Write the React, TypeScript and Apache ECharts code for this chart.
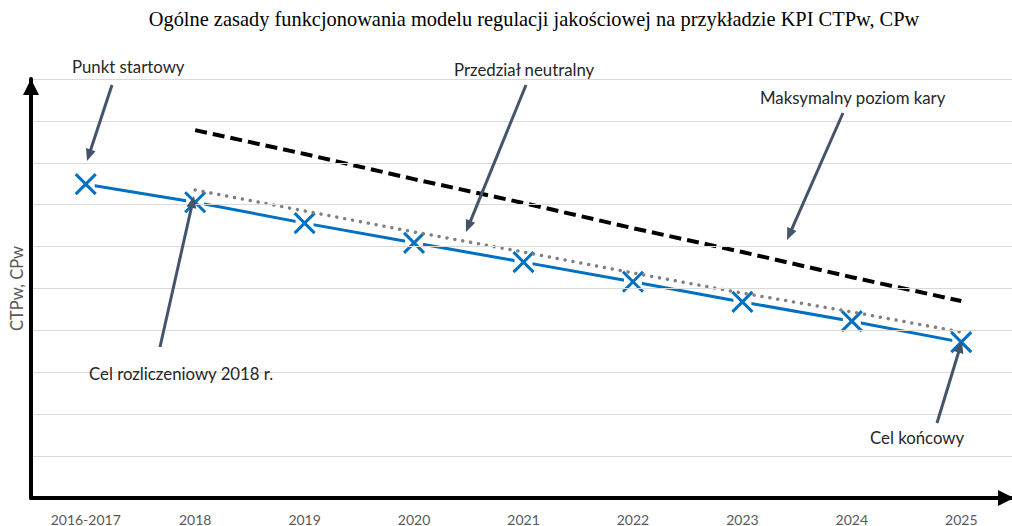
import React, { useEffect, useRef } from "react";
import * as echarts from "echarts";

const categories = ["2016-2017", "2018", "2019", "2020", "2021", "2022", "2023", "2024", "2025"];
const targetPath = [7.49, 7.06, 6.56, 6.09, 5.63, 5.16, 4.68, 4.22, 3.72];
const neutralBand = [null, 7.35, 6.85, 6.35, 5.87, 5.37, 4.89, 4.44, 3.96];
const maxPenalty = [null, 8.78, 8.21, 7.61, 7.04, 6.44, 5.87, 5.27, 4.7];

const titleText = "Ogólne zasady funkcjonowania modelu regulacji jakościowej na przykładzie KPI CTPw, CPw";
const yAxisName = "CTPw, CPw";

const annotations = [
  { text: "Punkt startowy", x: 72, y: 66, from: [112, 85], to: [87, 161] },
  { text: "Przedział neutralny", x: 454, y: 69, from: [526, 85], to: [466, 232] },
  { text: "Maksymalny poziom kary", x: 760, y: 97, from: [843, 113], to: [787, 240] },
  { text: "Cel rozliczeniowy 2018 r.", x: 89, y: 373, from: [160, 347], to: [194, 196] },
  { text: "Cel końcowy", x: 870, y: 437, from: [937, 423], to: [962, 341] },
];

const ARROW = "#44546A";
const SANS = "Lato, 'Noto Sans', sans-serif";

function arrow(x1: number, y1: number, x2: number, y2: number) {
  const dx = x2 - x1;
  const dy = y2 - y1;
  const L = Math.hypot(dx, dy);
  const ux = dx / L;
  const uy = dy / L;
  const hl = 12;
  const hw = 5;
  const bx = x2 - ux * hl;
  const by = y2 - uy * hl;
  return [
    {
      type: "line",
      z: 100,
      shape: { x1, y1, x2: bx + ux * 1, y2: by + uy * 1 },
      style: { stroke: ARROW, lineWidth: 3 },
    },
    {
      type: "polygon",
      z: 100,
      shape: {
        points: [
          [x2, y2],
          [bx - uy * hw, by + ux * hw],
          [bx + uy * hw, by - ux * hw],
        ],
      },
      style: { fill: ARROW },
    },
  ];
}

export default function App() {
  const ref = useRef<HTMLDivElement>(null);

  useEffect(() => {
    if (!ref.current) return;
    const chart = echarts.init(ref.current, null, { renderer: "svg" });

    const graphics: any[] = [
      {
        type: "text",
        x: 534,
        y: 19,
        z: 100,
        style: {
          text: titleText,
          fill: "#000",
          font: "20.4px 'Liberation Serif', serif",
          textAlign: "center",
          textVerticalAlign: "middle",
        },
      },
    ];
    annotations.forEach((a) => {
      graphics.push({
        type: "text",
        x: a.x,
        y: a.y,
        z: 100,
        style: {
          text: a.text,
          fill: "#262626",
          font: `16.8px ${SANS}`,
          textAlign: "left",
          textVerticalAlign: "middle",
        },
      });
      graphics.push(...arrow(a.from[0], a.from[1], a.to[0], a.to[1]));
    });

    chart.setOption({
      animation: false,
      grid: { left: 30, right: 4, top: 79, bottom: 28, containLabel: false },
      xAxis: {
        type: "category",
        data: categories,
        boundaryGap: true,
        axisLine: {
          show: true,
          lineStyle: { color: "#000", width: 4 },
          symbol: ["none", "triangle"],
          symbolSize: [16, 16],
          symbolOffset: [0, -10],
        },
        axisTick: { show: false },
        axisLabel: { color: "#595959", fontSize: 14, fontFamily: SANS, margin: 14 },
        splitLine: { show: false },
        z: 10,
      },
      yAxis: {
        type: "value",
        min: 0,
        max: 10,
        interval: 1,
        name: yAxisName,
        nameLocation: "middle",
        nameGap: 6,
        nameRotate: 90,
        nameTextStyle: { color: "#595959", fontSize: 16.5, fontFamily: SANS },
        axisLine: {
          show: true,
          lineStyle: { color: "#000", width: 4 },
          symbol: ["none", "triangle"],
          symbolSize: [16, 16],
          symbolOffset: [0, -8],
        },
        axisTick: { show: false },
        axisLabel: { show: false },
        splitLine: { show: true, lineStyle: { color: "#d9d9d9", width: 1 } },
        z: 10,
      },
      series: [
        {
          name: "Cel",
          type: "line",
          data: targetPath,
          showSymbol: false,
          lineStyle: { color: "#0070C0", width: 3 },
          z: 2,
          silent: true,
        },
        {
          name: "mask",
          type: "scatter",
          data: targetPath,
          symbol: "rect",
          symbolSize: 18,
          itemStyle: { color: "#ffffff", opacity: 1 },
          z: 3,
          silent: true,
        },
        {
          name: "Cel (znacznik)",
          type: "scatter",
          data: targetPath,
          symbol: "path://M0,0L10,10M10,0L0,10",
          symbolSize: 20,
          itemStyle: { color: "none", borderColor: "#0070C0", borderWidth: 3, opacity: 1 },
          z: 4,
          silent: true,
        },
        {
          name: "Przedział neutralny",
          type: "line",
          data: neutralBand,
          showSymbol: false,
          lineStyle: { color: "#808080", width: 3.5, type: [0.01, 8], cap: "round" },
          z: 5,
          silent: true,
        },
        {
          name: "Maksymalny poziom kary",
          type: "line",
          data: maxPenalty,
          showSymbol: false,
          lineStyle: { color: "#000", width: 4, type: [12, 6], cap: "butt" },
          z: 5,
          silent: true,
        },
      ],
      graphic: graphics,
    });

    return () => chart.dispose();
  }, []);

  return (
    <div
      style={{ position: "absolute", left: 0, top: 0, width: 1012, height: 526, overflow: "hidden", background: "#fff" }}
    >
      <div ref={ref} style={{ width: 1020, height: 526 }} />
    </div>
  );
}
